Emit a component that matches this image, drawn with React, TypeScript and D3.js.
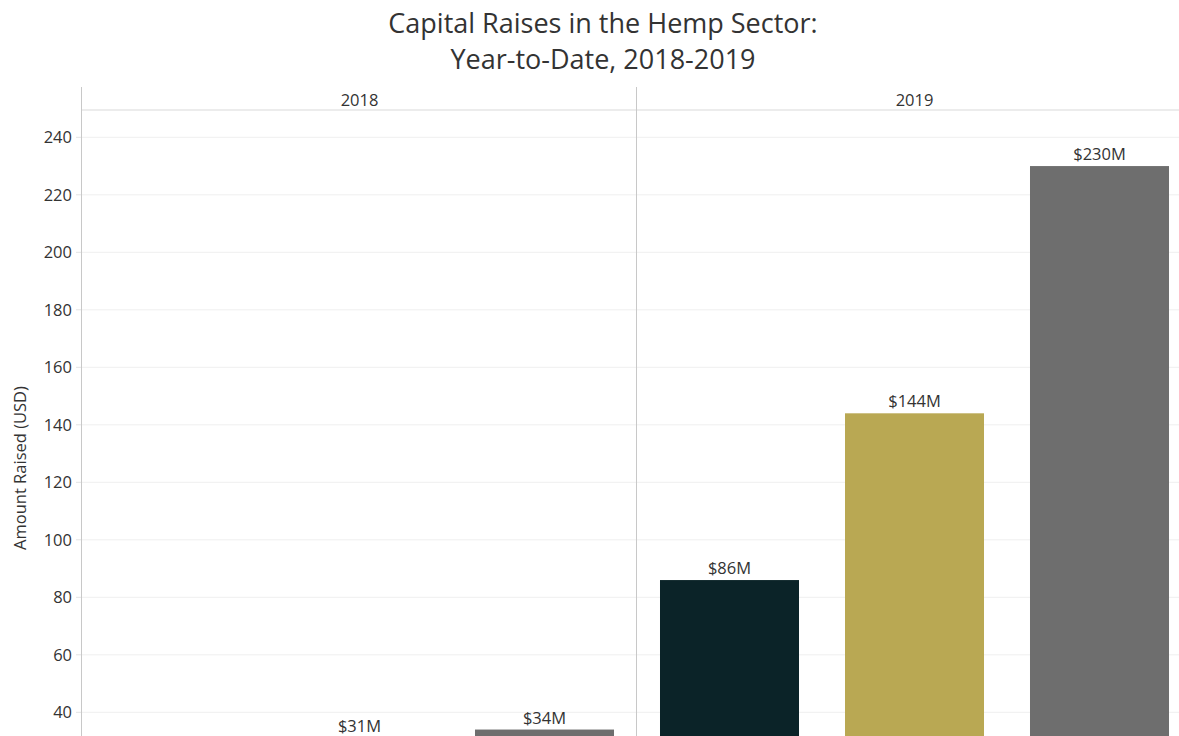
import React from "react";
import * as d3 from "d3";

const years = ["2018", "2019"];
const categories = ["A", "B", "C"];
const values2018 = [12, 31, 34];
const values2019 = [86, 144, 230];
const yTicks = [40, 60, 80, 100, 120, 140, 160, 180, 200, 220, 240];
const colors = ["#0b2328", "#b9a853", "#6e6e6e"];

const W = 1179;
const H = 736;
const FONT = "'Open Sans', 'Noto Sans', sans-serif";
const TEXT = "#333333";

export default function App() {
  const plotLeft = 82;
  const paneW = 555;
  const plotTop = 110;
  const y = d3.scaleLinear().domain([0, 249.5]).range([827.3, plotTop]);
  const xPane = d3.scaleBand().domain(years).range([plotLeft, plotLeft + paneW * 2]);
  const xBar = d3.scaleBand().domain(categories).range([0, paneW]).paddingInner(0.2486).paddingOuter(0.1243);
  const data = [values2018, values2019];

  return (
    <svg width={W} height={H} style={{ position: "absolute", left: 0, top: 0, background: "#fff" }} fontFamily={FONT}>
      <text x={603} y={33} textAnchor="middle" fontSize={27} fill={TEXT}>Capital Raises in the Hemp Sector:</text>
      <text x={603} y={69} textAnchor="middle" fontSize={27} fill={TEXT}>Year-to-Date, 2018-2019</text>

      {/* gridlines */}
      {yTicks.map((t) => (
        <line key={"g" + t} x1={plotLeft} x2={W} y1={y(t)} y2={y(t)} stroke="#efefef" strokeWidth={1} />
      ))}
      {/* tick marks and labels */}
      {yTicks.map((t) => (
        <g key={"t" + t}>
          <line x1={76} x2={plotLeft} y1={y(t)} y2={y(t)} stroke="#e3e3e3" />
          <text x={72} y={y(t)} dy="0.36em" textAnchor="end" fontSize={16.5} fill={TEXT}>{t}</text>
        </g>
      ))}

      {/* header row */}
      <line x1={plotLeft} x2={W} y1={plotTop} y2={plotTop} stroke="#d9d9d9" />
      {years.map((yr) => (
        <text key={yr} x={(xPane(yr) as number) + paneW / 2} y={106} textAnchor="middle" fontSize={16.5} fill={TEXT}>{yr}</text>
      ))}

      {/* bars */}
      {years.map((yr, pi) => (
        <g key={"p" + yr} transform={`translate(${xPane(yr)},0)`}>
          {categories.map((c, ci) => {
            const v = data[pi][ci];
            const bx = xBar(c) as number;
            const ly = y(v) - 6;
            return (
              <g key={c}>
                <rect x={bx} y={y(v)} width={xBar.bandwidth()} height={Math.max(0, y(0) - y(v))} fill={colors[ci]} />
                {ly < H ? (
                  <text x={bx + xBar.bandwidth() / 2} y={ly} textAnchor="middle" fontSize={16.5} fill={TEXT}>{`$${v}M`}</text>
                ) : null}
              </g>
            );
          })}
        </g>
      ))}

      {/* axis and divider lines */}
      <line x1={81.5} x2={81.5} y1={87} y2={H} stroke="#c8c8c8" />
      <line x1={636.5} x2={636.5} y1={87} y2={H} stroke="#c8c8c8" />

      <text transform={`translate(26,468) rotate(-90)`} textAnchor="middle" fontSize={16.5} fill={TEXT}>Amount Raised (USD)</text>
    </svg>
  );
}
